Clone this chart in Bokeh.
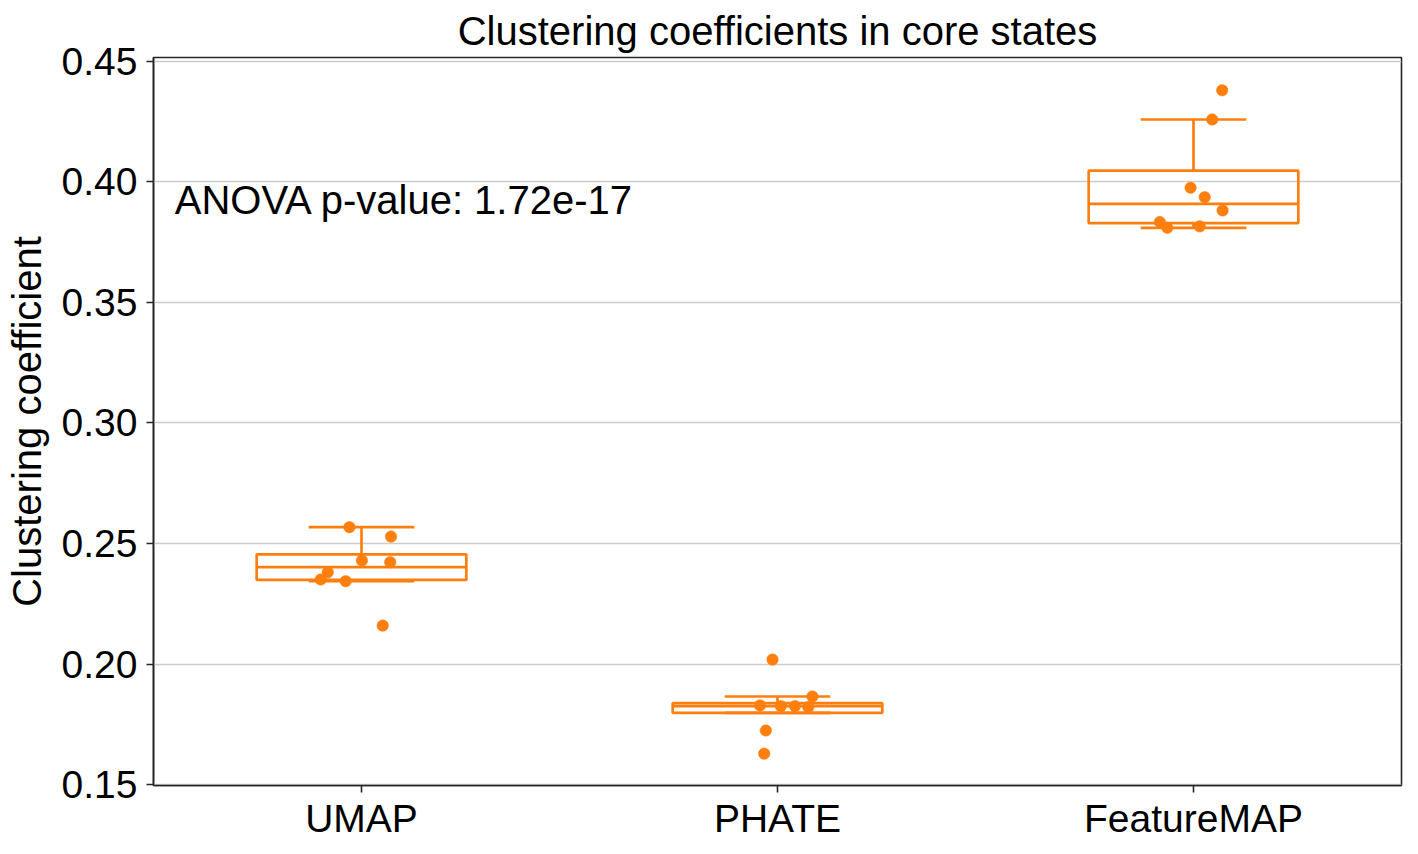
import numpy as np
from bokeh.plotting import figure
from bokeh.models import Range1d, FixedTicker, Label, ColumnDataSource
from bokeh.embed import file_html
from bokeh.resources import INLINE

# Clustering coefficient per run, grouped by embedding method
methods = ["UMAP", "PHATE", "FeatureMAP"]
umap_vals = [0.2568, 0.2529, 0.2430, 0.2423, 0.2381, 0.2351, 0.2344, 0.2160]
phate_vals = [0.2019, 0.1866, 0.1829, 0.1826, 0.1826, 0.1822, 0.1725, 0.1629]
featuremap_vals = [0.4379, 0.4258, 0.3975, 0.3936, 0.3881, 0.3833, 0.3809, 0.3815]
# horizontal strip jitter (category units)
umap_jitter = [-0.029, 0.071, 0.001, 0.069, -0.081, -0.098, -0.038, 0.051]
phate_jitter = [-0.012, 0.084, -0.042, 0.008, 0.042, 0.074, -0.028, -0.032]
featuremap_jitter = [0.069, 0.045, -0.007, 0.027, 0.070, -0.081, -0.063, 0.015]
anova_text = "ANOVA p-value: 1.72e-17"
y_ticks = [0.15, 0.20, 0.25, 0.30, 0.35, 0.40, 0.45]

groups = [umap_vals, phate_vals, featuremap_vals]
jitters = [umap_jitter, phate_jitter, featuremap_jitter]

ORANGE = "#ff7f0e"
DARK = "#262626"
FONT = "Liberation Sans"
FS = "39px"
FS_BIG = "40px"

p = figure(width=1418, height=854, output_backend="svg", toolbar_location=None,
           x_range=Range1d(0, 3), y_range=Range1d(0.1497, 0.4515),
           min_border_left=153, min_border_right=17, min_border_top=57,
           min_border_bottom=69, title="Clustering coefficients in core states")

p.title.text_font = FONT
p.title.text_font_size = FS_BIG
p.title.text_font_style = "normal"
p.title.text_color = "black"
p.title.align = "center"
p.title.standoff = 9

p.outline_line_color = DARK
p.outline_line_width = 1.6
p.outline_line_alpha = 1.0

p.xgrid.visible = False
p.ygrid.grid_line_color = "#cccccc"
p.ygrid.grid_line_width = 1.6
p.ygrid.ticker = FixedTicker(ticks=y_ticks)

positions = [i + 0.5 for i in range(len(methods))]
p.xaxis.ticker = FixedTicker(ticks=positions)
p.xaxis.major_label_overrides = {pos: m for pos, m in zip(positions, methods)}
p.yaxis.ticker = FixedTicker(ticks=y_ticks)
p.yaxis.major_label_overrides = {t: f"{t:.2f}" for t in y_ticks}
p.yaxis.axis_label = "Clustering coefficient"

for ax in (p.xaxis[0], p.yaxis[0]):
    ax.axis_line_color = DARK
    ax.axis_line_width = 1.6
    ax.major_tick_line_color = DARK
    ax.major_tick_line_width = 1.6
    ax.major_tick_in = 0
    ax.major_tick_out = 7
    ax.minor_tick_line_color = None
    ax.major_label_text_font = FONT
    ax.major_label_text_font_size = FS
    ax.major_label_text_color = "black"
    ax.axis_label_text_font = FONT
    ax.axis_label_text_font_size = FS_BIG
    ax.axis_label_text_font_style = "normal"
    ax.axis_label_text_color = "black"
p.xaxis.major_label_standoff = 4
p.yaxis.major_label_standoff = 9
p.yaxis.axis_label_standoff = 10

# box statistics (Tukey whiskers at 1.5 IQR, no fliers drawn)
stats = dict(pos=[], q1=[], med=[], q3=[], lo=[], hi=[])
for pos, vals in zip(positions, groups):
    a = np.array(vals)
    q1, med, q3 = np.percentile(a, [25, 50, 75])
    iqr = q3 - q1
    inside_lo = a[a >= q1 - 1.5 * iqr]
    inside_hi = a[a <= q3 + 1.5 * iqr]
    lo = min(inside_lo.min(), q1)
    hi = max(inside_hi.max(), q3)
    for k, v in zip(["pos", "q1", "med", "q3", "lo", "hi"], [pos, q1, med, q3, lo, hi]):
        stats[k].append(v)

src = ColumnDataSource(data=dict(
    left=[x - 0.252 for x in stats["pos"]], right=[x + 0.252 for x in stats["pos"]],
    cl=[x - 0.127 for x in stats["pos"]], cr=[x + 0.127 for x in stats["pos"]],
    **stats))

lw = 2.7
p.segment(x0="pos", y0="q3", x1="pos", y1="hi", source=src, line_color=ORANGE, line_width=lw)
p.segment(x0="pos", y0="q1", x1="pos", y1="lo", source=src, line_color=ORANGE, line_width=lw)
p.segment(x0="cl", y0="hi", x1="cr", y1="hi", source=src, line_color=ORANGE, line_width=lw)
p.segment(x0="cl", y0="lo", x1="cr", y1="lo", source=src, line_color=ORANGE, line_width=lw)
p.quad(left="left", right="right", bottom="q1", top="q3", source=src,
       fill_color="white", fill_alpha=0, line_color=ORANGE, line_width=lw)
p.segment(x0="left", y0="med", x1="right", y1="med", source=src, line_color=ORANGE, line_width=lw)

px, py = [], []
for pos, vals, jit in zip(positions, groups, jitters):
    for v, j in zip(vals, jit):
        px.append(pos + j)
        py.append(v)
p.scatter(px, py, size=11.5, fill_color=ORANGE, line_color=ORANGE, line_width=0.5)

p.add_layout(Label(x=0.051, y=0.3925, text=anova_text, text_font=FONT, text_font_size=FS_BIG,
                   text_color="black", text_baseline="alphabetic", text_align="left"))

open("out.html", "w").write(file_html(p, INLINE))
